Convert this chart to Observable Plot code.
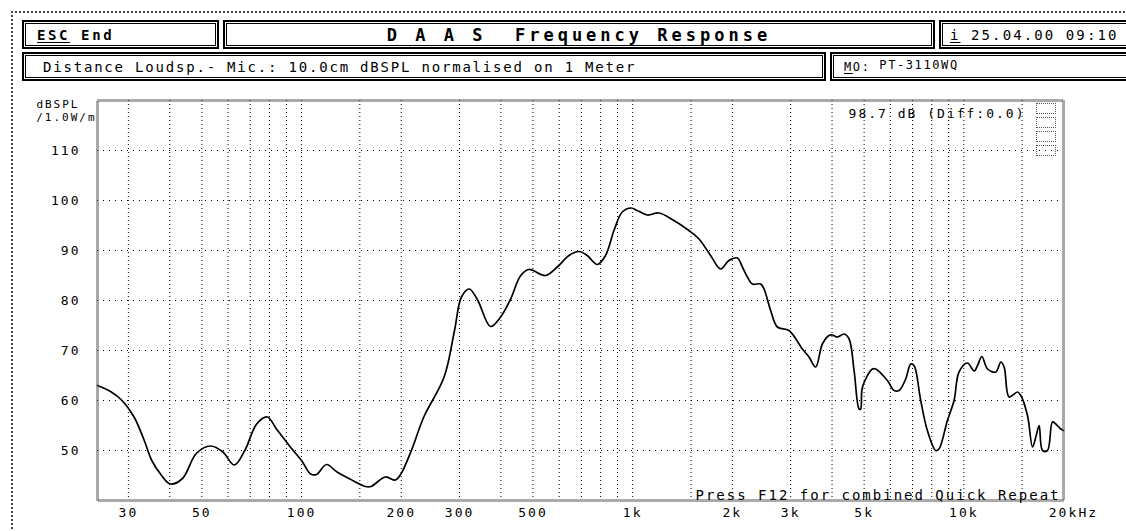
<!DOCTYPE html>
<html><head><meta charset="utf-8">
<script src="https://cdn.jsdelivr.net/npm/d3@7"></script>
<script src="https://cdn.jsdelivr.net/npm/@observablehq/plot@0.6"></script>
<style>
body{margin:0;background:#fff;}
#wrap{position:relative;width:1126px;height:531px;overflow:hidden;font-family:"DejaVu Sans Mono",monospace;color:#000;}
#outer{position:absolute;left:11px;top:11px;width:1200px;height:600px;border-left:2px dotted #444;border-top:2px dotted #444;}
.box{position:absolute;box-sizing:border-box;border:2px solid #000;box-shadow:inset 0 0 0 1px #fff, inset 0 0 0 2px #000;white-space:pre;display:flex;align-items:center;}
.u{text-decoration:underline;text-underline-offset:2px;}
#chart{position:absolute;left:0;top:0;}
#legendmini{position:absolute;left:1036px;top:103px;width:20px;}
#legendmini div{height:9px;border:1px dotted #555;margin-bottom:3px;}
</style></head>
<body><div id="wrap">
<div id="outer"></div>
<div id="chart"></div>
<div class="box" style="left:22px;top:20px;width:197px;height:29px;padding-left:13px;font-weight:bold;font-size:14px;letter-spacing:2.6px;"><span class="u">ESC</span> End</div>
<div class="box" style="left:223px;top:20px;width:712px;height:29px;justify-content:center;font-weight:bold;font-size:17px;letter-spacing:4px;">D A A S  Frequency Response</div>
<div class="box" style="left:939px;top:20px;width:230px;height:29px;padding-left:9px;font-size:14px;letter-spacing:2.1px;"><span class="u">i</span> 25.04.00 09:10</div>
<div class="box" style="left:22px;top:52px;width:804px;height:29px;padding-left:19px;font-size:14px;letter-spacing:1.8px;">Distance Loudsp.- Mic.: 10.0cm dBSPL normalised on 1 Meter</div>
<div class="box" style="left:830px;top:52px;width:330px;height:29px;padding-left:12px;font-size:12px;letter-spacing:1.6px;"><span class="u">M</span>O: <span style="position:relative;top:-2px;">PT-3110WQ</span></div>
<div id="legendmini"><div></div><div></div><div></div><div></div></div>
</div>
<script>
const freq = [24.2, 26.5, 28.7, 31.2, 33.5, 35.3, 37.5, 40.1, 43.7, 48.1, 53.1, 57.9, 62.6, 67.4, 73.2, 78.8, 84.0, 92.5, 100, 106.5, 111, 118.9, 128, 140, 156, 162, 179, 192, 199.5, 214.6, 234, 269.5, 289.7, 304, 321, 340.7, 372, 399, 428, 459, 486, 546, 592, 642, 688, 729, 782, 828, 878, 930, 990, 1032, 1107, 1200, 1332, 1478, 1586, 1719, 1843, 1953, 2071, 2144, 2220, 2298, 2435, 2493, 2610, 2735, 2965, 3254, 3408, 3569, 3740, 3916, 4010, 4153, 4350, 4504, 4662, 4828, 4880, 4943, 5296, 5420, 5877, 6157, 6375, 6675, 6912, 7073, 7410, 7762, 8226, 8414, 8922, 9343, 9674, 10257, 10742, 11000, 11335, 11790, 12495, 12937, 13237, 13706, 14522, 14863, 15570, 16125, 16500, 16885, 17280, 17890, 18520, 18950, 19630, 20000];
const spl = [63.0, 61.8, 60.0, 56.7, 52.0, 48.0, 45.3, 43.3, 44.4, 49.4, 50.9, 49.7, 47.1, 50.0, 55.3, 56.7, 54.3, 50.7, 48.0, 45.3, 45.2, 47.2, 45.7, 44.3, 42.8, 42.8, 44.7, 44.1, 45.3, 50.0, 56.7, 64.7, 74.0, 80.7, 82.3, 80.0, 74.8, 76.7, 80.3, 85.0, 86.2, 85.0, 86.7, 89.0, 89.8, 89.0, 87.2, 89.0, 94.0, 97.7, 98.5, 98.0, 97.1, 97.5, 96.0, 94.0, 92.3, 89.0, 86.3, 88.0, 88.5, 86.7, 84.7, 83.3, 83.3, 82.3, 78.0, 74.7, 74.0, 70.3, 68.7, 66.7, 71.3, 73.0, 73.1, 72.7, 73.3, 72.3, 66.0, 58.3, 58.3, 62.7, 66.3, 66.3, 64.0, 62.0, 62.0, 64.3, 67.3, 67.0, 60.0, 54.0, 50.0, 50.3, 56.0, 60.0, 65.7, 67.5, 65.9, 67.0, 68.8, 66.3, 65.7, 67.7, 66.7, 60.7, 61.7, 61.0, 57.0, 50.7, 52.7, 55.0, 50.0, 50.0, 55.7, 55.3, 54.3, 54.0];
const gridFreqs = [30, 40, 50, 60, 70, 80, 90, 100, 150, 200, 300, 400, 500, 600, 700, 800, 900, 1000, 1500, 2000, 3000, 4000, 5000, 6000, 7000, 8000, 9000, 10000, 15000];
const gridDb = [50, 60, 70, 80, 90, 100, 110];
const tickFreqs = [30, 50, 100, 200, 300, 500, 1000, 2000, 3000, 5000, 10000, 20000];
const tickLabels = ["30", "50", "100", "200", "300", "500", "1k", "2k", "3k", "5k", "10k", "20k"];
const dbTicks = [50, 60, 70, 80, 90, 100, 110];
const freqDomain = [24.2, 20000];
const dbDomain = [40, 120];
const yLabel = ["dBSPL", "/1.0W/m"];
const levelText = "98.7 dB (Diff:0.0)";
const hintText = "Press F12 for combined Quick Repeat";
const unitText = "Hz";

const data = freq.map((f, i) => ({f, db: spl[i]}));

const chart = Plot.plot({
  width: 1126, height: 531,
  marginLeft: 97, marginRight: 63, marginTop: 100, marginBottom: 31,
  x: {type: "log", domain: freqDomain, axis: null},
  y: {domain: dbDomain, axis: null},
  style: {fontFamily: "DejaVu Sans Mono", fontSize: "13px", letterSpacing: "2px", color: "#000", background: "transparent"},
  marks: [
    Plot.ruleX(gridFreqs, {stroke: "#000", strokeWidth: 1, strokeDasharray: "1,3"}),
    Plot.ruleY(gridDb, {stroke: "#000", strokeWidth: 1, strokeDasharray: "1,5"}),
    Plot.line(data, {x: "f", y: "db", stroke: "#000", strokeWidth: 1.7, curve: "catmull-rom"}),
    Plot.frame({stroke: "#555", strokeWidth: 3, strokeDasharray: "1,1"}),
    Plot.text(tickFreqs, {x: d => d, text: (d, i) => tickLabels[i], frameAnchor: "bottom", lineAnchor: "middle", dy: 12}),
    Plot.text(dbTicks, {y: d => d, text: d => String(d), frameAnchor: "left", textAnchor: "end", lineAnchor: "middle", dx: -17}),
    Plot.text([unitText], {frameAnchor: "bottom-right", textAnchor: "start", lineAnchor: "middle", dx: 15, dy: 12}),
    Plot.text([yLabel[0]], {frameAnchor: "top-left", textAnchor: "end", lineAnchor: "middle", dx: -18, dy: 4, fontSize: 11, letterSpacing: "1.2px"}),
    Plot.text([yLabel[1]], {frameAnchor: "top-left", textAnchor: "end", lineAnchor: "middle", dx: -1, dy: 17, fontSize: 11, letterSpacing: "0.8px"}),
    Plot.text([levelText], {frameAnchor: "top-right", textAnchor: "end", lineAnchor: "middle", dx: -38, dy: 13, letterSpacing: "1.8px"}),
    Plot.text([hintText], {frameAnchor: "bottom-right", textAnchor: "end", lineAnchor: "bottom", dx: -3, dy: -1, fontSize: 14, letterSpacing: "2.4px"})
  ]
});
document.getElementById("chart").appendChild(chart);
</script>
</body></html>
